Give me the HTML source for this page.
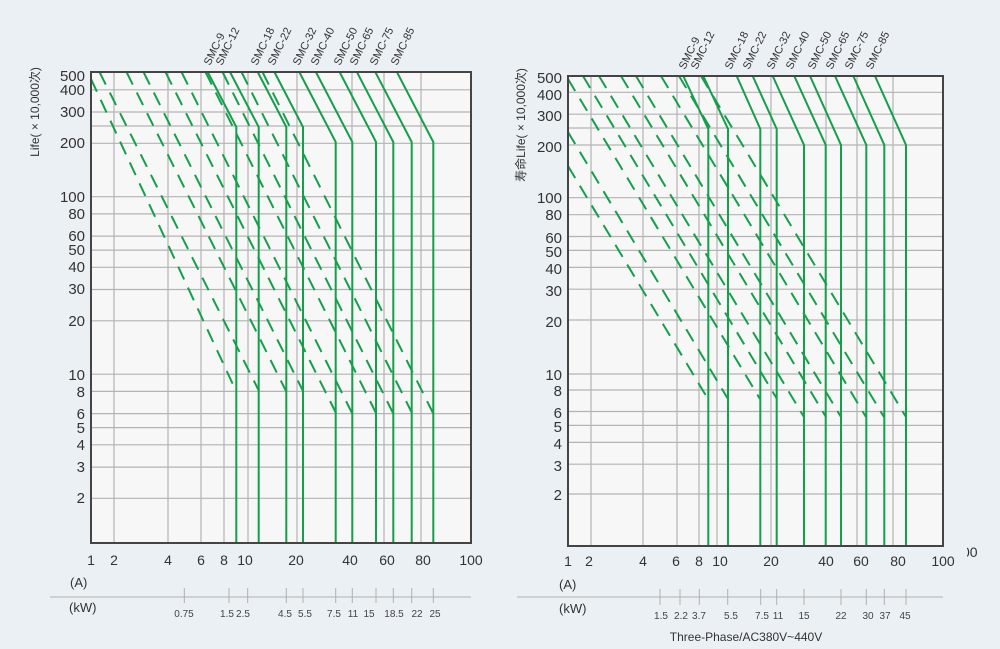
<!DOCTYPE html>
<html><head><meta charset="utf-8"><style>
html,body{margin:0;padding:0;background:#ebf0f5;}
svg{display:block;font-family:"Liberation Sans","Noto Sans CJK SC",sans-serif;}
</style></head><body>
<svg width="1000" height="649" viewBox="0 0 1000 649" xmlns="http://www.w3.org/2000/svg">
<rect width="1000" height="649" fill="#ebf0f5"/>
<!-- LEFT CHART -->
<rect x="91" y="72" width="380" height="471" fill="#f7f7f7"/>
<g stroke="#b4b4b4" stroke-width="1.2">
<line x1="91" x2="471" y1="89.8" y2="89.8"/><line x1="91" x2="471" y1="112" y2="112"/><line x1="91" x2="471" y1="126" y2="126"/><line x1="91" x2="471" y1="143.3" y2="143.3"/><line x1="91" x2="471" y1="196.7" y2="196.7"/><line x1="91" x2="471" y1="213.9" y2="213.9"/><line x1="91" x2="471" y1="236.1" y2="236.1"/><line x1="91" x2="471" y1="250.1" y2="250.1"/><line x1="91" x2="471" y1="267.3" y2="267.3"/><line x1="91" x2="471" y1="289.5" y2="289.5"/><line x1="91" x2="471" y1="320.8" y2="320.8"/><line x1="91" x2="471" y1="374.2" y2="374.2"/><line x1="91" x2="471" y1="391.4" y2="391.4"/><line x1="91" x2="471" y1="413.6" y2="413.6"/><line x1="91" x2="471" y1="427.6" y2="427.6"/><line x1="91" x2="471" y1="444.8" y2="444.8"/><line x1="91" x2="471" y1="467.1" y2="467.1"/><line x1="91" x2="471" y1="498.3" y2="498.3"/>
<line y1="72" y2="543" x1="114" x2="114"/><line y1="72" y2="543" x1="168" x2="168"/><line y1="72" y2="543" x1="201" x2="201"/><line y1="72" y2="543" x1="224" x2="224"/><line y1="72" y2="543" x1="248" x2="248"/><line y1="72" y2="543" x1="297" x2="297"/><line y1="72" y2="543" x1="352" x2="352"/><line y1="72" y2="543" x1="384" x2="384"/><line y1="72" y2="543" x1="421" x2="421"/>
</g>
<g stroke="#14a04a" stroke-width="2" fill="none" stroke-dasharray="14 9">
<line x1="91" y1="79" x2="236" y2="391"/><line x1="99.5" y1="72" x2="259" y2="391"/><line x1="126.5" y1="72" x2="286" y2="391"/><line x1="143.5" y1="72" x2="303" y2="391"/><line x1="165.5" y1="72" x2="336" y2="413"/><line x1="181.5" y1="72" x2="352" y2="413"/><line x1="205.5" y1="72" x2="376" y2="413"/><line x1="222.5" y1="72" x2="393" y2="413"/><line x1="241.5" y1="72" x2="412" y2="413"/><line x1="262.5" y1="72" x2="433" y2="413"/>
</g>
<g stroke="#14a04a" stroke-width="2" fill="none">
<polyline points="207.7,72 236.3,127 236.3,543"/><polyline points="230,72 258.7,127 258.7,543"/><polyline points="257.7,72 286.3,127 286.3,543"/><polyline points="274.4,72 303,127 303,543"/><polyline points="299.3,72 335.7,142 335.7,543"/><polyline points="315.9,72 352.3,142 352.3,543"/><polyline points="339.6,72 376,142 376,543"/><polyline points="356.9,72 393.3,142 393.3,543"/><polyline points="375.3,72 411.7,142 411.7,543"/><polyline points="396.9,72 433.3,142 433.3,543"/>
</g>
<rect x="91" y="72" width="380" height="471" fill="none" stroke="#444" stroke-width="2"/>
<g font-size="15" fill="#333" text-anchor="end">
<text x="85" y="81">500</text><text x="85" y="95">400</text><text x="85" y="117">300</text><text x="85" y="148">200</text><text x="85" y="202">100</text><text x="85" y="219">80</text><text x="85" y="241">60</text><text x="85" y="255">50</text><text x="85" y="272">40</text><text x="85" y="294">30</text><text x="85" y="326">20</text><text x="85" y="380">10</text><text x="85" y="397">8</text><text x="85" y="419">6</text><text x="85" y="433">5</text><text x="85" y="450">4</text><text x="85" y="472">3</text><text x="85" y="503">2</text>
</g>
<text transform="translate(39,112) rotate(-90)" font-size="12" fill="#333" text-anchor="middle">Life( × 10,000次)</text>
<g font-size="14" fill="#333" text-anchor="middle">
<text x="91" y="565">1</text><text x="114" y="565">2</text><text x="168" y="565">4</text><text x="201" y="565">6</text><text x="224" y="565">8</text><text x="245" y="565">10</text><text x="296" y="565">20</text><text x="350" y="565">40</text><text x="387" y="565">60</text><text x="423" y="565">80</text><text x="471" y="565">100</text>
</g>
<text x="70" y="587" font-size="13" fill="#333">(A)</text>
<text x="69" y="612" font-size="13" fill="#333">(kW)</text>
<line x1="50" x2="471" y1="597" y2="597" stroke="#b0b0b0" stroke-width="1"/>
<g stroke="#b0b0b0" stroke-width="1">
<line x1="184.3" x2="184.3" y1="588" y2="603"/><line x1="229" x2="229" y1="588" y2="603"/><line x1="247.7" x2="247.7" y1="588" y2="603"/><line x1="286.3" x2="286.3" y1="588" y2="603"/><line x1="303" x2="303" y1="588" y2="603"/><line x1="335.7" x2="335.7" y1="588" y2="603"/><line x1="352.3" x2="352.3" y1="588" y2="603"/><line x1="376" x2="376" y1="588" y2="603"/><line x1="393.3" x2="393.3" y1="588" y2="603"/><line x1="411.7" x2="411.7" y1="588" y2="603"/><line x1="433.3" x2="433.3" y1="588" y2="603"/>
</g>
<g font-size="10" fill="#444" text-anchor="middle">
<text x="184" y="617">0.75</text><text x="227" y="617">1.5</text><text x="243" y="617">2.5</text><text x="285" y="617">4.5</text><text x="305" y="617">5.5</text><text x="334" y="617">7.5</text><text x="353" y="617">11</text><text x="369" y="617">15</text><text x="394" y="617">18.5</text><text x="417" y="617">22</text><text x="435" y="617">25</text>
</g>
<g font-size="11" fill="#333">
<text transform="translate(210,66) rotate(-64)">SMC-9</text><text transform="translate(222,66) rotate(-64)">SMC-12</text><text transform="translate(257,66) rotate(-64)">SMC-18</text><text transform="translate(274,66) rotate(-64)">SMC-22</text><text transform="translate(299,66) rotate(-64)">SMC-32</text><text transform="translate(317,66) rotate(-64)">SMC-40</text><text transform="translate(340,66) rotate(-64)">SMC-50</text><text transform="translate(356,66) rotate(-64)">SMC-65</text><text transform="translate(376,66) rotate(-64)">SMC-75</text><text transform="translate(397,66) rotate(-64)">SMC-85</text>
</g>

<!-- RIGHT CHART -->
<rect x="568" y="76" width="375" height="470" fill="#f7f7f7"/>
<g stroke="#b4b4b4" stroke-width="1.2">
<line x1="568" x2="943" y1="92.3" y2="92.3"/><line x1="568" x2="943" y1="114.2" y2="114.2"/><line x1="568" x2="943" y1="128" y2="128"/><line x1="568" x2="943" y1="145" y2="145"/><line x1="568" x2="943" y1="197.7" y2="197.7"/><line x1="568" x2="943" y1="214.7" y2="214.7"/><line x1="568" x2="943" y1="236.5" y2="236.5"/><line x1="568" x2="943" y1="250.4" y2="250.4"/><line x1="568" x2="943" y1="267.4" y2="267.4"/><line x1="568" x2="943" y1="289.2" y2="289.2"/><line x1="568" x2="943" y1="320" y2="320"/><line x1="568" x2="943" y1="374" y2="374"/><line x1="568" x2="943" y1="390" y2="390"/><line x1="568" x2="943" y1="411.5" y2="411.5"/><line x1="568" x2="943" y1="425.4" y2="425.4"/><line x1="568" x2="943" y1="442.4" y2="442.4"/><line x1="568" x2="943" y1="464.2" y2="464.2"/><line x1="568" x2="943" y1="494" y2="494"/>
<line y1="76" y2="546" x1="591" x2="591"/><line y1="76" y2="546" x1="643" x2="643"/><line y1="76" y2="546" x1="677" x2="677"/><line y1="76" y2="546" x1="699" x2="699"/><line y1="76" y2="546" x1="717" x2="717"/><line y1="76" y2="546" x1="771" x2="771"/><line y1="76" y2="546" x1="826" x2="826"/><line y1="76" y2="546" x1="857" x2="857"/><line y1="76" y2="546" x1="893" x2="893"/>
</g>
<g stroke="#14a04a" stroke-width="2" fill="none" stroke-dasharray="14 9">
<line x1="568" y1="166" x2="708" y2="399"/><line x1="568" y1="132" x2="728" y2="399"/><line x1="568" y1="79" x2="760" y2="399"/><line x1="583" y1="76" x2="777" y2="399"/><line x1="599" y1="76" x2="804" y2="417"/><line x1="621" y1="76" x2="826" y2="417"/><line x1="636" y1="76" x2="841" y2="417"/><line x1="661" y1="76" x2="866" y2="417"/><line x1="679" y1="76" x2="884" y2="417"/><line x1="701" y1="76" x2="906" y2="417"/>
</g>
<g stroke="#14a04a" stroke-width="2" fill="none">
<polyline points="683.3,76 708.3,129 708.3,546"/><polyline points="703.3,76 728,129 728,546"/><polyline points="736.7,76 760.3,129 760.3,546"/><polyline points="752.7,76 776.7,129 776.7,546"/><polyline points="772.7,76 804,145 804,546"/><polyline points="794.3,76 825.7,145 825.7,546"/><polyline points="810,76 841,145 841,546"/><polyline points="835,76 866.3,145 866.3,546"/><polyline points="853.3,76 884.3,145 884.3,546"/><polyline points="875,76 906,145 906,546"/>
</g>
<rect x="568" y="76" width="375" height="470" fill="none" stroke="#444" stroke-width="2"/>
<g font-size="15" fill="#333" text-anchor="end">
<text x="562" y="83">500</text><text x="562" y="100">400</text><text x="562" y="121">300</text><text x="562" y="152">200</text><text x="562" y="203">100</text><text x="562" y="220">80</text><text x="562" y="243">60</text><text x="562" y="257">50</text><text x="562" y="274">40</text><text x="562" y="296">30</text><text x="562" y="327">20</text><text x="562" y="380">10</text><text x="562" y="396">8</text><text x="562" y="418">6</text><text x="562" y="432">5</text><text x="562" y="449">4</text><text x="562" y="471">3</text><text x="562" y="500">2</text>
</g>
<text transform="translate(525,125) rotate(-90)" font-size="12" fill="#333" text-anchor="middle">寿命Life( × 10,000次)</text>
<g font-size="14" fill="#333" text-anchor="middle">
<text x="568" y="566">1</text><text x="589" y="566">2</text><text x="643" y="566">4</text><text x="676" y="566">6</text><text x="699" y="566">8</text><text x="720" y="566">10</text><text x="771" y="566">20</text><text x="826" y="566">40</text><text x="861" y="566">60</text><text x="898" y="566">80</text><text x="943" y="566">100</text>
</g>
<text x="962" y="557" font-size="14" fill="#333">00</text>
<rect x="957" y="540" width="10" height="22" fill="#ebf0f5"/>
<text x="559" y="589" font-size="13" fill="#333">(A)</text>
<text x="559" y="613" font-size="13" fill="#333">(kW)</text>
<line x1="517" x2="943" y1="597" y2="597" stroke="#b0b0b0" stroke-width="1"/>
<g stroke="#b0b0b0" stroke-width="1">
<line x1="660" x2="660" y1="589" y2="605"/><line x1="680" x2="680" y1="589" y2="605"/><line x1="699.3" x2="699.3" y1="589" y2="605"/><line x1="727.7" x2="727.7" y1="589" y2="605"/><line x1="760.7" x2="760.7" y1="589" y2="605"/><line x1="776.7" x2="776.7" y1="589" y2="605"/><line x1="804" x2="804" y1="589" y2="605"/><line x1="841" x2="841" y1="589" y2="605"/><line x1="866.3" x2="866.3" y1="589" y2="605"/><line x1="884.3" x2="884.3" y1="589" y2="605"/><line x1="906" x2="906" y1="589" y2="605"/>
</g>
<g font-size="10" fill="#444" text-anchor="middle">
<text x="661" y="619">1.5</text><text x="681" y="619">2.2</text><text x="699" y="619">3.7</text><text x="731" y="619">5.5</text><text x="762" y="619">7.5</text><text x="778" y="619">11</text><text x="804" y="619">15</text><text x="841" y="619">22</text><text x="868" y="619">30</text><text x="885" y="619">37</text><text x="905" y="619">45</text>
</g>
<text x="746" y="641" font-size="12" fill="#333" text-anchor="middle">Three-Phase/AC380V~440V</text>
<g font-size="11" fill="#333">
<text transform="translate(685,70) rotate(-64)">SMC-9</text><text transform="translate(697,70) rotate(-64)">SMC-12</text><text transform="translate(731,70) rotate(-64)">SMC-18</text><text transform="translate(749,70) rotate(-64)">SMC-22</text><text transform="translate(773,70) rotate(-64)">SMC-32</text><text transform="translate(792,70) rotate(-64)">SMC-40</text><text transform="translate(814,70) rotate(-64)">SMC-50</text><text transform="translate(832,70) rotate(-64)">SMC-65</text><text transform="translate(851,70) rotate(-64)">SMC-75</text><text transform="translate(872,70) rotate(-64)">SMC-85</text>
</g>
</svg>
</body></html>
